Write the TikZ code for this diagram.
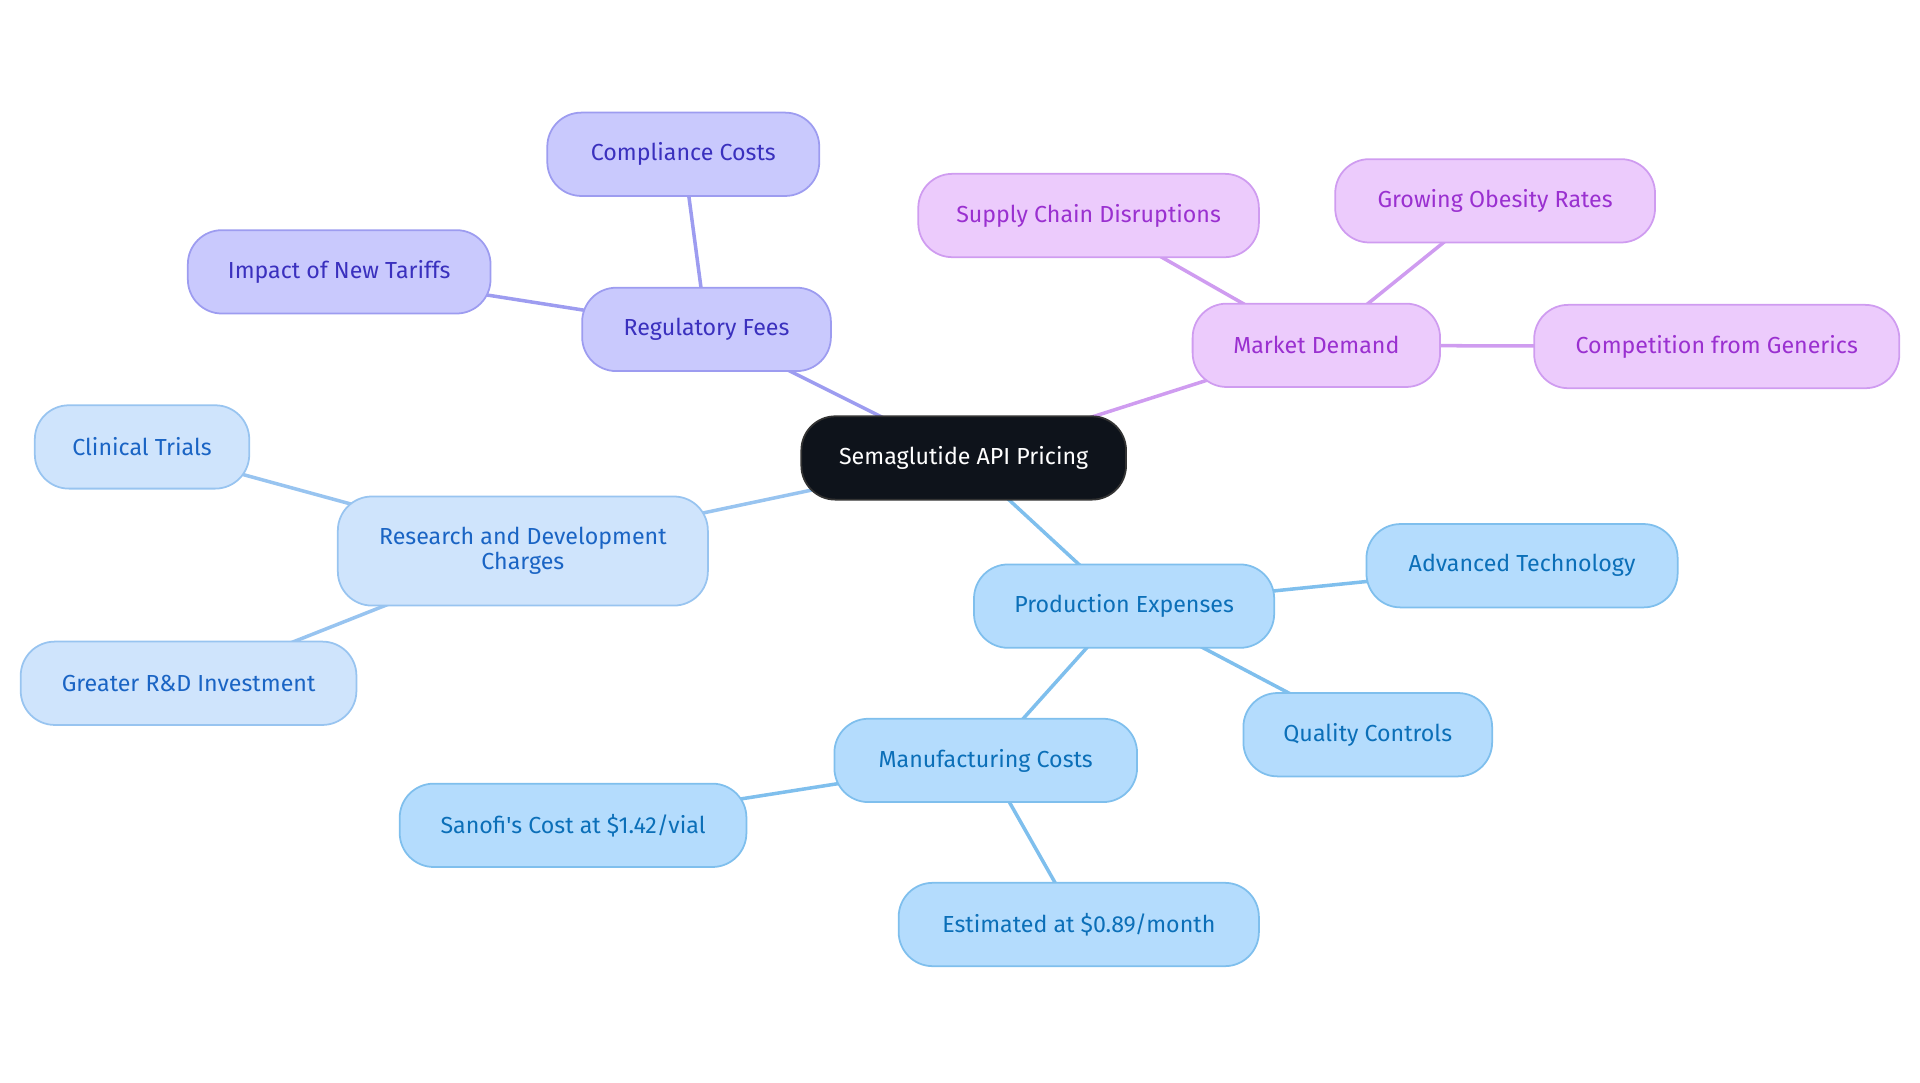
\documentclass[tikz,border=0pt]{standalone}
\usepackage{fontspec}
\setmainfont{Fira Sans}
\usetikzlibrary{backgrounds}

\definecolor{rootfill}{HTML}{0E131B}
\definecolor{regfill}{HTML}{C9C9FD}
\definecolor{regline}{HTML}{9D9CF0}
\definecolor{regtext}{HTML}{3A30BE}
\definecolor{mktfill}{HTML}{ECCBFC}
\definecolor{mktline}{HTML}{CF9CF0}
\definecolor{mkttext}{HTML}{9A30D0}
\definecolor{rdfill}{HTML}{CFE4FC}
\definecolor{rdline}{HTML}{98C4F0}
\definecolor{rdtext}{HTML}{1A64C4}
\definecolor{prodfill}{HTML}{B4DCFD}
\definecolor{prodline}{HTML}{7FBFED}
\definecolor{prodtext}{HTML}{0B6FB8}

\tikzset{
  topic/.style={rectangle, rounded corners=0.34cm, minimum height=0.833cm,
    align=center, inner sep=0pt, line width=0.5pt,
    font=\fontsize{6.6}{7}\selectfont},
  root/.style={topic, fill=rootfill, draw=black!80, text=white},
  reg/.style={topic, fill=regfill, draw=regline, text=regtext},
  mkt/.style={topic, fill=mktfill, draw=mktline, text=mkttext},
  rd/.style={topic, fill=rdfill, draw=rdline, text=rdtext},
  prod/.style={topic, fill=prodfill, draw=prodline, text=prodtext},
  link/.style={line width=1pt}
}

\begin{document}
\begin{tikzpicture}[x=0.012245cm, y=-0.012245cm]
  \useasboundingbox (0,0) rectangle (1568,884);

  \node[root, minimum width=3.245cm] (root) at (787,374) {Semaglutide API Pricing};

  \node[reg, minimum width=2.486cm] (fees) at (577,269) {Regulatory Fees};
  \node[reg, minimum width=2.718cm] (compliance) at (558,126) {Compliance Costs};
  \node[reg, minimum width=3.025cm] (tariffs) at (277,222) {Impact of New Tariffs};

  \node[mkt, minimum width=2.473cm] (demand) at (1075,282) {Market Demand};
  \node[mkt, minimum width=3.404cm] (supply) at (889,176) {Supply Chain Disruptions};
  \node[mkt, minimum width=3.196cm] (obesity) at (1221,164) {Growing Obesity Rates};
  \node[mkt, minimum width=3.649cm] (generics) at (1402,283) {Competition from Generics};

  \node[rd, minimum width=3.698cm, minimum height=1.09cm] (research) at (427,450) {Research and Development\\Charges};
  \node[rd, minimum width=2.143cm] (trials) at (116,365) {Clinical Trials};
  \node[rd, minimum width=3.355cm] (invest) at (154,558) {Greater R\&D Investment};

  \node[prod, minimum width=3.0cm] (production) at (918,495) {Production Expenses};
  \node[prod, minimum width=3.11cm] (technology) at (1243,462) {Advanced Technology};
  \node[prod, minimum width=2.486cm] (quality) at (1117,600) {Quality Controls};
  \node[prod, minimum width=3.025cm] (manufacturing) at (805,621) {Manufacturing Costs};
  \node[prod, minimum width=3.465cm] (sanofi) at (468,674) {Sanofi\textquotesingle s Cost at \$1.42/vial};
  \node[prod, minimum width=3.6cm] (estimate) at (881,755) {Estimated at \$0.89/month};

  \begin{scope}[on background layer]
    \draw[link, regline] (root.center) -- (fees.center);
    \draw[link, regline] (fees.center) -- (compliance.center);
    \draw[link, regline] (fees.center) -- (tariffs.center);
    \draw[link, mktline] (root.center) -- (demand.center);
    \draw[link, mktline] (demand.center) -- (supply.center);
    \draw[link, mktline] (demand.center) -- (obesity.center);
    \draw[link, mktline] (demand.center) -- (generics.center);
    \draw[link, rdline] (root.center) -- (research.center);
    \draw[link, rdline] (research.center) -- (trials.center);
    \draw[link, rdline] (research.center) -- (invest.center);
    \draw[link, prodline] (root.center) -- (production.center);
    \draw[link, prodline] (production.center) -- (technology.center);
    \draw[link, prodline] (production.center) -- (quality.center);
    \draw[link, prodline] (production.center) -- (manufacturing.center);
    \draw[link, prodline] (manufacturing.center) -- (sanofi.center);
    \draw[link, prodline] (manufacturing.center) -- (estimate.center);
  \end{scope}
\end{tikzpicture}
\end{document}
